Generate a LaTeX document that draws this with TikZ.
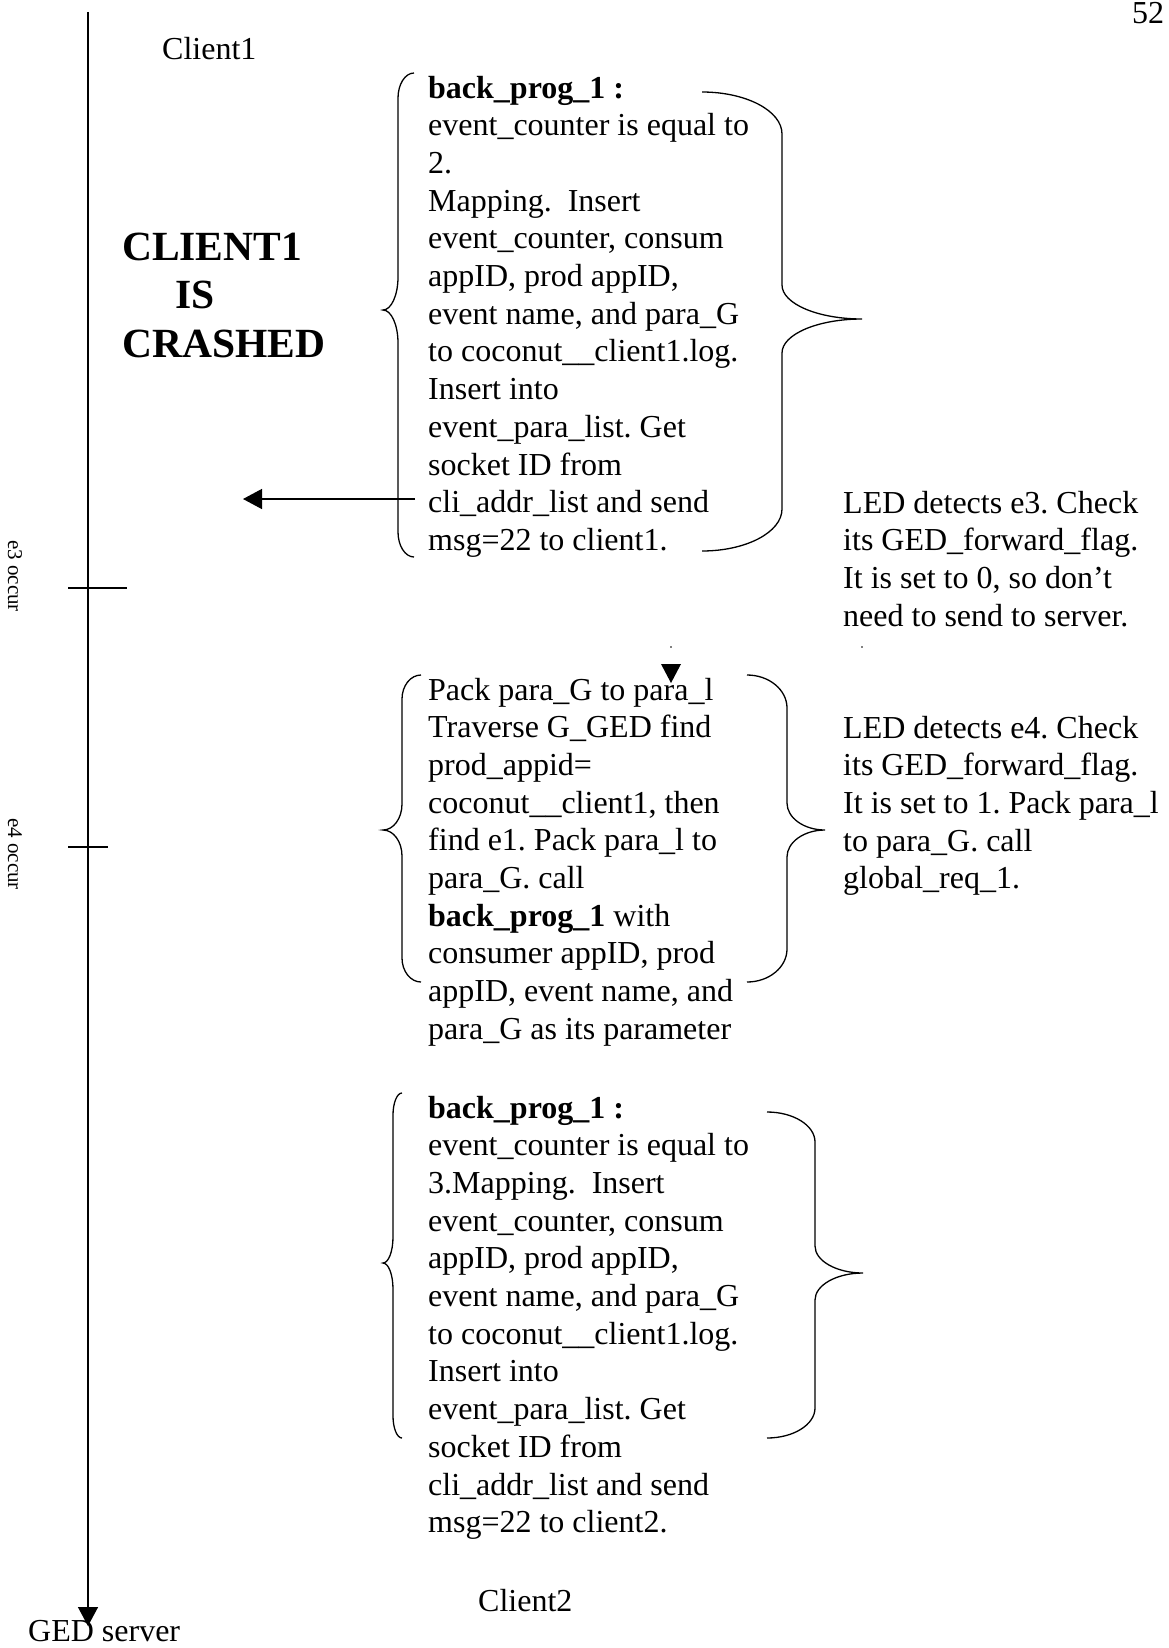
\documentclass[tikz,border=0pt]{standalone}
\usepackage{fontspec}
\setmainfont{Liberation Serif}
\usetikzlibrary{arrows.meta}
\frenchspacing

% curly brace: end x, spine x, tip x, top y, tip y, bottom y, end radius, tip radius
% every bend is a quarter ellipse
\newcommand\curlybrace[8]{%
  \draw[bracestyle] (#1,#4)
    .. controls ({#1+0.552*(#2-#1)},#4) and (#2,{#4+0.448*#7}) .. (#2,{#4+#7})
    -- (#2,{#5-#8})
    .. controls (#2,{#5-0.448*#8}) and ({#2+0.448*(#3-#2)},#5) .. (#3,#5)
    .. controls ({#2+0.448*(#3-#2)},#5) and (#2,{#5+0.448*#8}) .. (#2,{#5+#8})
    -- (#2,{#6-#7})
    .. controls (#2,{#6-0.448*#7}) and ({#1+0.552*(#2-#1)},#6) .. (#1,#6);}

\tikzset{
  body/.style={font=\fontsize{32bp}{37.7bp}\selectfont, inner sep=0pt, anchor=base west},
  bigbold/.style={font=\fontsize{41.5bp}{48.5bp}\selectfont\bfseries, inner sep=0pt, anchor=base west},
  small/.style={font=\fontsize{21bp}{24bp}\selectfont, inner sep=0pt, rotate=-90},
  axis/.style={line width=1.4bp},
  bracestyle/.style={line width=1.3bp},
  tip/.style={-{Triangle[width=20bp,length=19bp]}},
}

\begin{document}
\begin{tikzpicture}[x=1bp, y=-1bp]
\path[use as bounding box, fill=white] (0,0) rectangle (1168,1648);

% page number
\node[body] (pagenum) at (1132,24) {52};

% time axis of client 1 / server
\coordinate (axtop) at (88,12);
\coordinate (axend) at (88,1626);
\draw[axis, tip] (axtop) -- (axend);
\node[body] (ged) at (28,1641) {GED server};

% event ticks
\coordinate (e3l) at (68,588);
\coordinate (e3r) at (127,588);
\coordinate (e4l) at (68,847);
\coordinate (e4r) at (108,847);
\draw[axis] (e3l) -- (e3r);
\draw[axis] (e4l) -- (e4r);
\node[small] (e3lab) at (15,576) {e3 occur};
\node[small] (e4lab) at (15,854) {e4 occur};

% client labels
\node[body] (client1) at (162,60) {Client1};
\node[body] (client2) at (478,1611) {Client2};
\node[bigbold] (crash) at (122,260) {\vtop{\hbox{CLIENT1}\hbox{\hspace*{53bp}IS}\hbox{CRASHED}}};

% first back_prog_1 block
\node[body] (prog1) at (428,98) {\vtop{%
  \hbox{\textbf{back\_prog\_1 :}}
  \hbox{event\_counter is equal to}
  \hbox{2.}
  \hbox{Mapping.\ \ Insert}
  \hbox{event\_counter, consum}
  \hbox{appID, prod appID,}
  \hbox{event name, and para\_G}
  \hbox{to coconut\_\_client1.log.}
  \hbox{Insert into}
  \hbox{event\_para\_list. Get}
  \hbox{socket ID from}
  \hbox{cli\_addr\_list and send}
  \hbox{msg=22 to client1.}}};
\curlybrace{414}{398}{383}{73}{310}{557}{25}{33}
\curlybrace{702}{782}{862}{92}{319}{551}{42}{34}

% message towards crashed client 1
\coordinate (msgstart) at (415,499);
\coordinate (msgend) at (243,499);
\draw[axis, tip] (msgstart) -- (msgend);

% LED notes
\node[body] (led3) at (843,513) {\vtop{%
  \hbox{LED detects e3. Check}
  \hbox{its GED\_forward\_flag.}
  \hbox{It is set to 0, so don’t}
  \hbox{need to send to server.}}};
\node[body] (led4) at (843,738) {\vtop{%
  \hbox{LED detects e4. Check}
  \hbox{its GED\_forward\_flag.}
  \hbox{It is set to 1. Pack para\_l}
  \hbox{to para\_G. call}
  \hbox{global\_req\_1.}}};

% small marks above the middle block
\fill (671,647) circle (0.9bp);
\fill (862,647) circle (0.9bp);
\fill (661,664) -- (681,664) -- (671,683) -- cycle;

% server-side handling
\node[body] (pack) at (428,700) {\vtop{%
  \hbox{Pack para\_G to para\_l}
  \hbox{Traverse G\_GED find}
  \hbox{prod\_appid=}
  \hbox{coconut\_\_client1, then}
  \hbox{find e1. Pack para\_l to}
  \hbox{para\_G. call}
  \hbox{\textbf{back\_prog\_1} with}
  \hbox{consumer appID, prod}
  \hbox{appID, event name, and}
  \hbox{para\_G as its parameter}}};
\curlybrace{421}{402}{383}{675}{830}{982}{24}{26}
\curlybrace{747}{787}{825}{675}{830}{982}{33}{27}

% second back_prog_1 block
\node[body] (prog2) at (428,1118) {\vtop{%
  \hbox{\textbf{back\_prog\_1 :}}
  \hbox{event\_counter is equal to}
  \hbox{3.Mapping.\ \ Insert}
  \hbox{event\_counter, consum}
  \hbox{appID, prod appID,}
  \hbox{event name, and para\_G}
  \hbox{to coconut\_\_client1.log.}
  \hbox{Insert into}
  \hbox{event\_para\_list. Get}
  \hbox{socket ID from}
  \hbox{cli\_addr\_list and send}
  \hbox{msg=22 to client2.}}};
\curlybrace{402}{393}{383}{1093}{1263}{1438}{22}{26}
\curlybrace{767}{815}{863}{1112}{1273}{1438}{30}{27}

\end{tikzpicture}
\end{document}
